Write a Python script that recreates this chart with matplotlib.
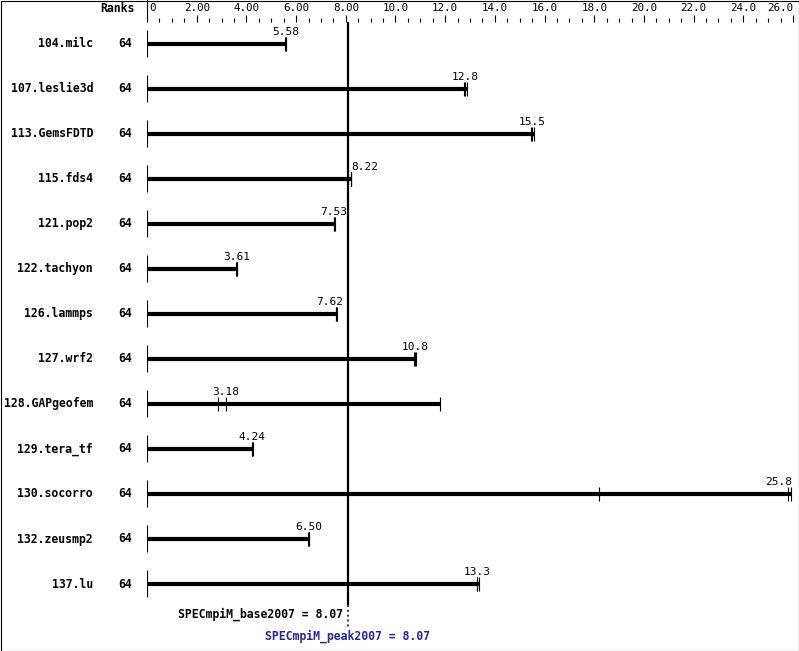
import matplotlib
matplotlib.use("Agg")
import matplotlib.pyplot as plt
from matplotlib.transforms import blended_transform_factory
from matplotlib.patches import Rectangle

benchmarks = ["104.milc", "107.leslie3d", "113.GemsFDTD", "115.fds4", "121.pop2",
              "122.tachyon", "126.lammps", "127.wrf2", "128.GAPgeofem", "129.tera_tf",
              "130.socorro", "132.zeusmp2", "137.lu"]
ranks = [64] * 13
runs = [
    [5.57, 5.58, 5.59],
    [12.76, 12.80, 12.86],
    [15.45, 15.50, 15.57],
    [8.20, 8.22, 8.23],
    [7.52, 7.53, 7.55],
    [3.60, 3.61, 3.61],
    [7.60, 7.62, 7.63],
    [10.75, 10.80, 10.82],
    [2.85, 3.18, 11.80],
    [4.23, 4.24, 4.25],
    [18.19, 25.80, 25.93],
    [6.48, 6.50, 6.52],
    [13.28, 13.30, 13.38],
]
medians = [5.58, 12.8, 15.5, 8.22, 7.53, 3.61, 7.62, 10.8, 3.18, 4.24, 25.8, 6.50, 13.3]
median_labels = ["5.58", "12.8", "15.5", "8.22", "7.53", "3.61", "7.62", "10.8",
                 "3.18", "4.24", "25.8", "6.50", "13.3"]
base_score = 8.07
peak_score = 8.07
xmax = 26.0
major_ticks = [0, 2, 4, 6, 8, 10, 12, 14, 16, 18, 20, 22, 24, 26]
major_labels = ["0", "2.00", "4.00", "6.00", "8.00", "10.0", "12.0", "14.0", "16.0",
                "18.0", "20.0", "22.0", "24.0", "26.0"]

W, H = 799, 651
DPI = 100
fig = plt.figure(figsize=(W / DPI, H / DPI), dpi=DPI)
fig.patch.set_facecolor("white")

MONO = "DejaVu Sans Mono"
BLUE = "#2525aa"
x0_px, x1_px = 147, 793
row0_px, row_step = 44, 45
px_per_unit = (x1_px - x0_px) / xmax

ax = fig.add_axes([x0_px / W, 0, (x1_px - x0_px) / W, 1])
ax.set_xlim(0, xmax)
ax.set_ylim((H - row0_px) / row_step, -row0_px / row_step)
ax.axis("off")

def px2row(p):
    return p / row_step

# tick strip
sx = fig.add_axes([x0_px / W, (H - 22) / H, (x1_px - x0_px) / W, 22 / H])
sx.set_xlim(0, xmax)
sx.set_ylim(0, 1)
for s in sx.spines.values():
    s.set_visible(False)
sx.set_yticks([])
sx.set_xticks(major_ticks)
sx.set_xticks([v / 2 for v in range(0, 53) if v % 4 != 0], minor=True)
sx.tick_params(axis="x", which="major", direction="in", length=5.0, width=0.8,
               bottom=True, top=False, labelbottom=False)
sx.tick_params(axis="x", which="minor", direction="in", length=2.9, width=0.8,
               bottom=True, top=False)
sx.axvline(0, color="black", lw=0.8)
sx.patch.set_alpha(0)
for v, lab in zip(major_ticks, major_labels):
    if v == 0:
        sx.text(v + 2 / px_per_unit, 0.62, lab, ha="left", va="center",
                family=MONO, fontsize=7.8)
    elif v == xmax:
        sx.text(v, 0.62, lab, ha="right", va="center", family=MONO, fontsize=7.8)
    else:
        sx.text(v, 0.62, lab, ha="center", va="center", family=MONO, fontsize=7.8)

tr_lbl = blended_transform_factory(fig.transFigure, ax.transData)
fig.text(135 / W, 1 - 9 / H, "Ranks", ha="right", va="center", family=MONO,
         fontsize=8.3, fontweight="bold")

VFS = 8.0
half_w = 12.5 / px_per_unit
for i, (name, rk, rr, med, ml) in enumerate(zip(benchmarks, ranks, runs, medians, median_labels)):
    ax.text(93 / W, i, name, transform=tr_lbl, ha="right", va="center",
            family=MONO, fontsize=8.3, fontweight="bold")
    ax.text(125 / W, i, str(rk), transform=tr_lbl, ha="center", va="center",
            family=MONO, fontsize=8.3, fontweight="bold")
    ax.vlines(0, i - px2row(14), i + px2row(13), color="black", lw=0.8)
    ax.hlines(i, 0, max(rr), color="black", lw=3.0, capstyle="butt")
    ax.vlines(rr, i - px2row(7), i + px2row(7), color="black", lw=0.8)
    ly = i - px2row(11.5)
    if med + half_w > xmax:
        ax.text(xmax - 1 / px_per_unit, ly, ml, ha="right", va="center", family=MONO, fontsize=VFS)
    elif med - half_w < base_score < med + half_w:
        if med < base_score:
            ax.text(base_score - 4 / px_per_unit, ly, ml, ha="right", va="center",
                    family=MONO, fontsize=VFS)
        else:
            ax.text(max(med, base_score + 3 / px_per_unit), ly, ml, ha="left",
                    va="center", family=MONO, fontsize=VFS)
    else:
        ax.text(med, ly, ml, ha="center", va="center", family=MONO, fontsize=VFS)

# reference lines
ax.vlines(base_score, px2row(22 - row0_px), px2row(605 - row0_px), color="black", lw=1.6)
ax.vlines(peak_score, px2row(605 - row0_px), px2row(627 - row0_px), color=BLUE,
          lw=1.4, linestyles=(0, (1, 1.5)))
ax.text(base_score - 5 / px_per_unit, px2row(614 - row0_px),
        "SPECmpiM_base2007 = %.2f" % base_score, ha="right", va="center",
        family=MONO, fontsize=8.3, fontweight="bold", color="black")
ax.text(peak_score, px2row(636 - row0_px),
        "SPECmpiM_peak2007 = %.2f" % peak_score, ha="center", va="center",
        family=MONO, fontsize=8.3, fontweight="bold", color=BLUE)

# frame
fig.patches.append(Rectangle((0.5 / W, 0.5 / H), (W - 1) / W, (H - 1) / H,
                             transform=fig.transFigure, fill=False,
                             edgecolor="black", lw=0.8))

fig.savefig("out.png", dpi=DPI, facecolor="white")
